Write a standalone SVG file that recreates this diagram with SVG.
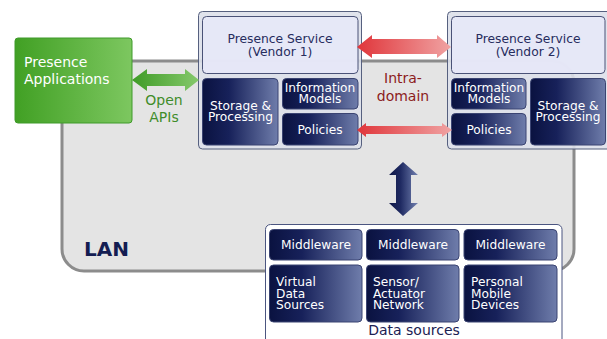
<svg xmlns="http://www.w3.org/2000/svg" width="607" height="339" viewBox="0 0 607 339">
<defs>
<linearGradient id="navy" x1="0" y1="0" x2="1" y2="0">
<stop offset="0" stop-color="#0a1240"/>
<stop offset="0.35" stop-color="#17215a"/>
<stop offset="1" stop-color="#6f7dab"/>
</linearGradient>
<linearGradient id="green" x1="0" y1="0" x2="1" y2="0">
<stop offset="0" stop-color="#41a024"/>
<stop offset="1" stop-color="#7dc760"/>
</linearGradient>
<linearGradient id="garrow" x1="0" y1="0" x2="1" y2="0">
<stop offset="0" stop-color="#3f9b27"/>
<stop offset="1" stop-color="#86c96c"/>
</linearGradient>
<linearGradient id="rarrow" x1="0" y1="0" x2="1" y2="0">
<stop offset="0" stop-color="#e0353a"/>
<stop offset="1" stop-color="#f0a3a3"/>
</linearGradient>
<linearGradient id="varrow" x1="0" y1="0" x2="1" y2="0">
<stop offset="0" stop-color="#0e1746"/>
<stop offset="0.4" stop-color="#1f2a62"/>
<stop offset="1" stop-color="#7382b1"/>
</linearGradient>
</defs>
<style>
.t{font-family:"DejaVu Sans","Verdana",sans-serif}
.dark{fill:url(#navy);stroke:#3b4472;stroke-width:1}
.cont{fill:#dde0ea;fill-opacity:0.9;stroke:#56607f;stroke-width:1}
.top{fill:#e7e8f8;fill-opacity:0.9;stroke:#4a5277;stroke-width:1}
.w{fill:#ffffff;font-size:12.2px}
.n{fill:#272d5e;font-size:12.3px}
</style>

<g id="lan">
<rect x="62" y="61" width="512" height="210" rx="22" ry="22" fill="#e4e4e4" stroke="#8c8c8c" stroke-width="3"/>
<text class="t" x="84" y="256" font-size="20" font-weight="bold" fill="#141d52">LAN</text>
</g>

<g id="presence-applications">
<rect x="15" y="38" width="117" height="85" rx="3" fill="url(#green)" stroke="#3f9a2a" stroke-width="1"/>
<text class="t" x="24" y="67" font-size="14" fill="#ffffff">Presence</text>
<text class="t" x="24" y="84" font-size="14" fill="#ffffff">Applications</text>
</g>

<g id="vendor1">
<rect class="cont" x="198.5" y="11.5" width="163" height="137.5" rx="4"/>
<rect class="top" x="202.5" y="16.5" width="155.5" height="57" rx="4"/>
<text class="t n" x="280" y="43" text-anchor="middle">Presence Service</text>
<text class="t n" x="280" y="56" text-anchor="middle">(Vendor 1)</text>
<g id="storage1">
<rect class="dark" x="202.5" y="78.5" width="75.5" height="66.5" rx="4"/>
<text class="t w" x="240.5" y="110" text-anchor="middle">Storage &amp;</text>
<text class="t w" x="240.5" y="121" text-anchor="middle">Processing</text>
</g>
<g id="info1">
<rect class="dark" x="282.5" y="78.5" width="75.5" height="30.5" rx="4"/>
<text class="t w" x="320" y="92" text-anchor="middle">Information</text>
<text class="t w" x="320" y="103" text-anchor="middle">Models</text>
</g>
<g id="policies1">
<rect class="dark" x="282.5" y="113.5" width="75.5" height="31.5" rx="4"/>
<text class="t w" x="320" y="134" text-anchor="middle">Policies</text>
</g>
</g>

<g id="vendor2">
<rect class="cont" x="447.5" y="11.5" width="170" height="137.5" rx="4"/>
<rect class="top" x="451.5" y="16.5" width="153.5" height="57" rx="4"/>
<text class="t n" x="528" y="43" text-anchor="middle">Presence Service</text>
<text class="t n" x="528" y="56" text-anchor="middle">(Vendor 2)</text>
<g id="info2">
<rect class="dark" x="451.5" y="78.5" width="74.5" height="30.5" rx="4"/>
<text class="t w" x="489" y="92" text-anchor="middle">Information</text>
<text class="t w" x="489" y="103" text-anchor="middle">Models</text>
</g>
<g id="policies2">
<rect class="dark" x="451.5" y="113.5" width="74.5" height="31.5" rx="4"/>
<text class="t w" x="489" y="134" text-anchor="middle">Policies</text>
</g>
<g id="storage2">
<rect class="dark" x="530.5" y="78.5" width="75" height="66.5" rx="4"/>
<text class="t w" x="568" y="110" text-anchor="middle">Storage &amp;</text>
<text class="t w" x="568" y="121" text-anchor="middle">Processing</text>
</g>
</g>

<g id="data-sources">
<rect x="265.5" y="224.5" width="296.5" height="130" rx="5" fill="#ffffff" stroke="#4b5580" stroke-width="1"/>
<rect class="dark" x="269.5" y="229.5" width="92.5" height="30.5" rx="4"/>
<rect class="dark" x="366.5" y="229.5" width="92.5" height="30.5" rx="4"/>
<rect class="dark" x="464" y="229.5" width="93" height="30.5" rx="4"/>
<text class="t w" x="316" y="249" text-anchor="middle">Middleware</text>
<text class="t w" x="413" y="249" text-anchor="middle">Middleware</text>
<text class="t w" x="510.5" y="249" text-anchor="middle">Middleware</text>
<rect class="dark" x="269.5" y="265" width="92.5" height="57" rx="4"/>
<rect class="dark" x="366.5" y="265" width="92.5" height="57" rx="4"/>
<rect class="dark" x="464" y="265" width="93" height="57" rx="4"/>
<text class="t w" x="276" y="286">Virtual</text>
<text class="t w" x="276" y="297.5">Data</text>
<text class="t w" x="276" y="308.5">Sources</text>
<text class="t w" x="373" y="286">Sensor/</text>
<text class="t w" x="373" y="297.5">Actuator</text>
<text class="t w" x="373" y="308.5">Network</text>
<text class="t w" x="471" y="286">Personal</text>
<text class="t w" x="471" y="297.5">Mobile</text>
<text class="t w" x="471" y="308.5">Devices</text>
<text class="t" x="414" y="335" text-anchor="middle" font-size="14" fill="#1b2152">Data sources</text>
</g>

<g id="connectors">
<path d="M132,80 L147,69 L147,74 L185,74 L185,69 L199,80 L185,91 L185,86 L147,86 L147,91 Z" fill="url(#garrow)"/>
<text class="t" x="164" y="105" text-anchor="middle" font-size="14" fill="#3f8c2a">Open</text>
<text class="t" x="164" y="122" text-anchor="middle" font-size="14" fill="#3f8c2a">APIs</text>
<path d="M357,47 L372,35 L372,39 L437,39 L437,35 L451,47 L437,58 L437,54 L372,54 L372,58 Z" fill="url(#rarrow)"/>
<path d="M357,130 L366,123 L366,126 L442,126 L442,123 L452,130 L442,137 L442,134 L366,134 L366,137 Z" fill="url(#rarrow)"/>
<text class="t" x="403" y="83" text-anchor="middle" font-size="14" fill="#8c1c1c">Intra-</text>
<text class="t" x="403" y="101" text-anchor="middle" font-size="14" fill="#8c1c1c">domain</text>
<path d="M403,162 L418,175 L411,175 L411,203 L418,203 L403,216 L389,203 L396,203 L396,175 L389,175 Z" fill="url(#varrow)"/>
</g>
</svg>
